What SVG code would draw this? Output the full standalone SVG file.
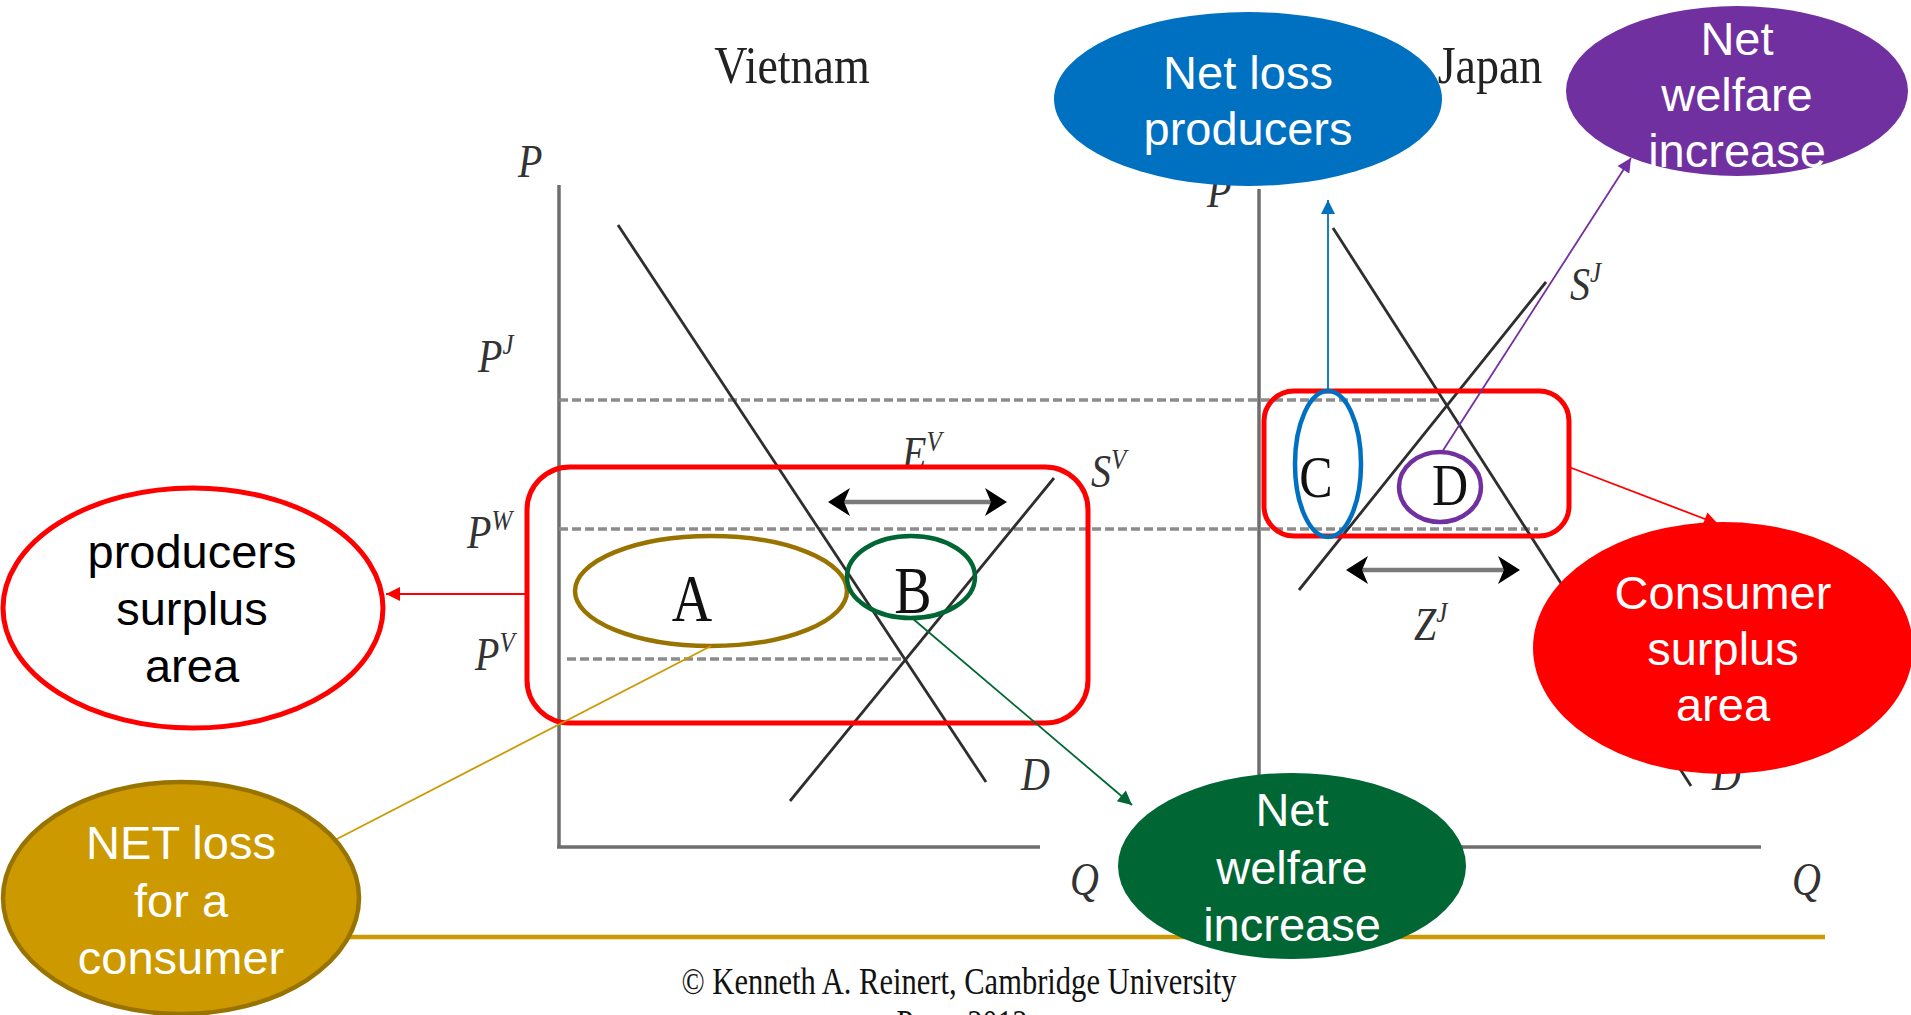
<svg xmlns="http://www.w3.org/2000/svg" width="1911" height="1015" viewBox="0 0 1911 1015">
<defs>
<style>
.axis{stroke:#6e6e6e;stroke-width:3.5;fill:none}
.curve{stroke:#2e2e2e;stroke-width:2.8;fill:none}
.dash{stroke:#8c8c8c;stroke-width:3.5;stroke-dasharray:9 4;fill:none}
.lbl{font-family:"Liberation Serif","Times New Roman",serif;font-style:italic;fill:#333;font-size:40px}
.sup{font-size:25px}
.title{font-family:"Liberation Serif","Times New Roman",serif;fill:#222;font-size:46px;text-anchor:middle}
.big{font-family:"Liberation Serif","Times New Roman",serif;fill:#111;text-anchor:middle}
.call{font-family:"Liberation Sans",Arial,sans-serif;font-size:47px;text-anchor:middle;fill:#fff}
.dbl{stroke:#7a7a7a;stroke-width:4.5;marker-start:url(#dh);marker-end:url(#dh)}
.conn{fill:none;stroke-width:1.8}
</style>
<marker id="dh" viewBox="0 0 22 28" refX="16" refY="14" markerWidth="22" markerHeight="28" markerUnits="userSpaceOnUse" orient="auto-start-reverse">
<path d="M0,0 L22,14 L0,28 L6,14 Z" fill="#000"/>
</marker>
<marker id="aRed" viewBox="0 0 10 10" refX="10" refY="5" markerWidth="17" markerHeight="14" markerUnits="userSpaceOnUse" orient="auto"><path d="M0,0 L10,5 L0,10 Z" fill="#FF0000"/></marker>
<marker id="aGreen" viewBox="0 0 10 10" refX="10" refY="5" markerWidth="17" markerHeight="14" markerUnits="userSpaceOnUse" orient="auto"><path d="M0,0 L10,5 L0,10 Z" fill="#006633"/></marker>
<marker id="aBlue" viewBox="0 0 10 10" refX="10" refY="5" markerWidth="17" markerHeight="14" markerUnits="userSpaceOnUse" orient="auto"><path d="M0,0 L10,5 L0,10 Z" fill="#0070C0"/></marker>
<marker id="aPurple" viewBox="0 0 10 10" refX="10" refY="5" markerWidth="17" markerHeight="14" markerUnits="userSpaceOnUse" orient="auto"><path d="M0,0 L10,5 L0,10 Z" fill="#7030A0"/></marker>
</defs>
<rect width="1911" height="1015" fill="#fff"/>

<g id="chart">
<text class="title" transform="translate(792,83) scale(1,1.15)">Vietnam</text>
<text class="title" transform="translate(1490,83) scale(1,1.15)">Japan</text>
<!-- Vietnam -->
<line class="axis" x1="559" y1="185" x2="559" y2="848"/>
<line class="axis" x1="557" y1="847" x2="1040" y2="847"/>
<line class="dash" x1="559" y1="400" x2="1444" y2="400"/>
<line class="dash" x1="559" y1="529" x2="1538" y2="529"/>
<line class="dash" x1="567" y1="659" x2="902" y2="659"/>
<line class="curve" x1="618" y1="225" x2="986" y2="782"/>
<line class="curve" x1="790" y1="801" x2="1054" y2="478"/>
<line class="dbl" x1="834" y1="502" x2="1001" y2="502"/>
<text class="lbl" transform="translate(518,177) scale(1,1.15)">P</text>
<text class="lbl" transform="translate(478,372) scale(1,1.15)">P<tspan class="sup" dy="-16">J</tspan></text>
<text class="lbl" transform="translate(467,548) scale(1,1.15)">P<tspan class="sup" dy="-16">W</tspan></text>
<text class="lbl" transform="translate(475,670) scale(1,1.15)">P<tspan class="sup" dy="-16">V</tspan></text>
<text class="lbl" transform="translate(902,469) scale(1,1.15)">E<tspan class="sup" dy="-16">V</tspan></text>
<text class="lbl" transform="translate(1091,487) scale(1,1.15)">S<tspan class="sup" dy="-16">V</tspan></text>
<text class="lbl" transform="translate(1021,790) scale(1,1.15)">D</text>
<text class="lbl" transform="translate(1070,895) scale(1,1.15)">Q</text>
<!-- Japan -->
<line class="axis" x1="1259" y1="189" x2="1259" y2="848"/>
<line class="axis" x1="1257" y1="847" x2="1761" y2="847"/>
<line class="curve" x1="1333" y1="228" x2="1691" y2="786"/>
<line class="curve" x1="1299" y1="590" x2="1546" y2="282"/>
<line class="dbl" x1="1352" y1="570" x2="1514" y2="570"/>
<text class="lbl" transform="translate(1207,207) scale(1,1.15)">P</text>
<text class="lbl" transform="translate(1570,300) scale(1,1.15)">S<tspan class="sup" dy="-16">J</tspan></text>
<text class="lbl" transform="translate(1414,640) scale(1,1.15)">Z<tspan class="sup" dy="-16">J</tspan></text>
<text class="lbl" transform="translate(1712,790) scale(1,1.15)">D</text>
<text class="lbl" transform="translate(1792,895) scale(1,1.15)">Q</text>
</g>

<g id="footer">
<line x1="330" y1="937" x2="1825" y2="937" stroke="#CC9900" stroke-width="4.5"/>
<text transform="translate(959,994) scale(1,1.25)" font-family="'Liberation Serif','Times New Roman',serif" font-size="30" fill="#111" text-anchor="middle" textLength="555" lengthAdjust="spacingAndGlyphs">© Kenneth A. Reinert, Cambridge University</text>
<text transform="translate(962,1036) scale(1,1.25)" font-family="'Liberation Serif','Times New Roman',serif" font-size="30" fill="#111" text-anchor="middle">Press 2012</text>
</g>

<g id="region-vietnam">
<rect x="527" y="467" width="561" height="256" rx="43" ry="43" fill="none" stroke="#FF0000" stroke-width="5"/>
</g>
<g id="region-japan">
<rect x="1264" y="391" width="305" height="145" rx="30" ry="30" fill="none" stroke="#FF0000" stroke-width="5"/>
</g>
<g id="area-A">
<ellipse cx="711" cy="591" rx="136" ry="55" fill="none" stroke="#997300" stroke-width="4.5"/>
<text class="big" font-size="56" transform="translate(692,621) scale(1,1.2)">A</text>
</g>
<g id="area-B">
<ellipse cx="911" cy="577" rx="64" ry="41" fill="none" stroke="#006633" stroke-width="4.5"/>
<text class="big" font-size="56" transform="translate(913,613) scale(1,1.2)">B</text>
</g>
<g id="area-C">
<ellipse cx="1328" cy="464" rx="33" ry="73" fill="none" stroke="#0070C0" stroke-width="4.5"/>
<text class="big" font-size="50" transform="translate(1316,497) scale(1,1.2)">C</text>
</g>
<g id="area-D">
<ellipse cx="1440" cy="487" rx="41" ry="35" fill="none" stroke="#7030A0" stroke-width="4.5"/>
<text class="big" font-size="50" transform="translate(1450,505) scale(1,1.2)">D</text>
</g>

<g id="connectors">
<line class="conn" x1="527" y1="594" x2="386" y2="594" stroke="#FF0000" marker-end="url(#aRed)"/>
<line class="conn" x1="711" y1="646" x2="335" y2="840" stroke="#CC9900"/>
<line class="conn" x1="912" y1="618" x2="1132" y2="805" stroke="#006633" marker-end="url(#aGreen)"/>
<line class="conn" x1="1328" y1="391" x2="1328" y2="200" stroke="#0070C0" marker-end="url(#aBlue)"/>
<line class="conn" x1="1442" y1="452" x2="1631" y2="158" stroke="#7030A0" marker-end="url(#aPurple)"/>
<line class="conn" x1="1569" y1="467" x2="1718" y2="524" stroke="#FF0000" marker-end="url(#aRed)"/>
</g>

<g id="producers-surplus">
<ellipse cx="193" cy="608" rx="190" ry="120" fill="#fff" stroke="#FF0000" stroke-width="5"/>
<text class="call" style="fill:#000" x="192" y="568">producers</text>
<text class="call" style="fill:#000" x="192" y="625">surplus</text>
<text class="call" style="fill:#000" x="192" y="682">area</text>
</g>
<g id="net-loss-consumer">
<ellipse cx="181" cy="898" rx="178" ry="116" fill="#CC9900" stroke="#997300" stroke-width="4.5"/>
<text class="call" x="181" y="859">NET loss</text>
<text class="call" x="181" y="917">for a</text>
<text class="call" x="181" y="974">consumer</text>
</g>
<g id="net-loss-producers">
<ellipse cx="1248" cy="99" rx="194" ry="87" fill="#0070C0"/>
<text class="call" x="1248" y="89">Net loss</text>
<text class="call" x="1248" y="145">producers</text>
</g>
<g id="net-welfare-japan">
<ellipse cx="1737" cy="91" rx="171" ry="85" fill="#7030A0"/>
<text class="call" x="1737" y="55">Net</text>
<text class="call" x="1737" y="111">welfare</text>
<text class="call" x="1737" y="167">increase</text>
</g>
<g id="consumer-surplus">
<ellipse cx="1723" cy="648" rx="190" ry="126" fill="#FF0000"/>
<text class="call" x="1723" y="609">Consumer</text>
<text class="call" x="1723" y="665">surplus</text>
<text class="call" x="1723" y="721">area</text>
</g>
<g id="net-welfare-vietnam">
<ellipse cx="1292" cy="866" rx="174" ry="93" fill="#006633"/>
<text class="call" x="1292" y="826">Net</text>
<text class="call" x="1292" y="884">welfare</text>
<text class="call" x="1292" y="941">increase</text>
</g>
</svg>
